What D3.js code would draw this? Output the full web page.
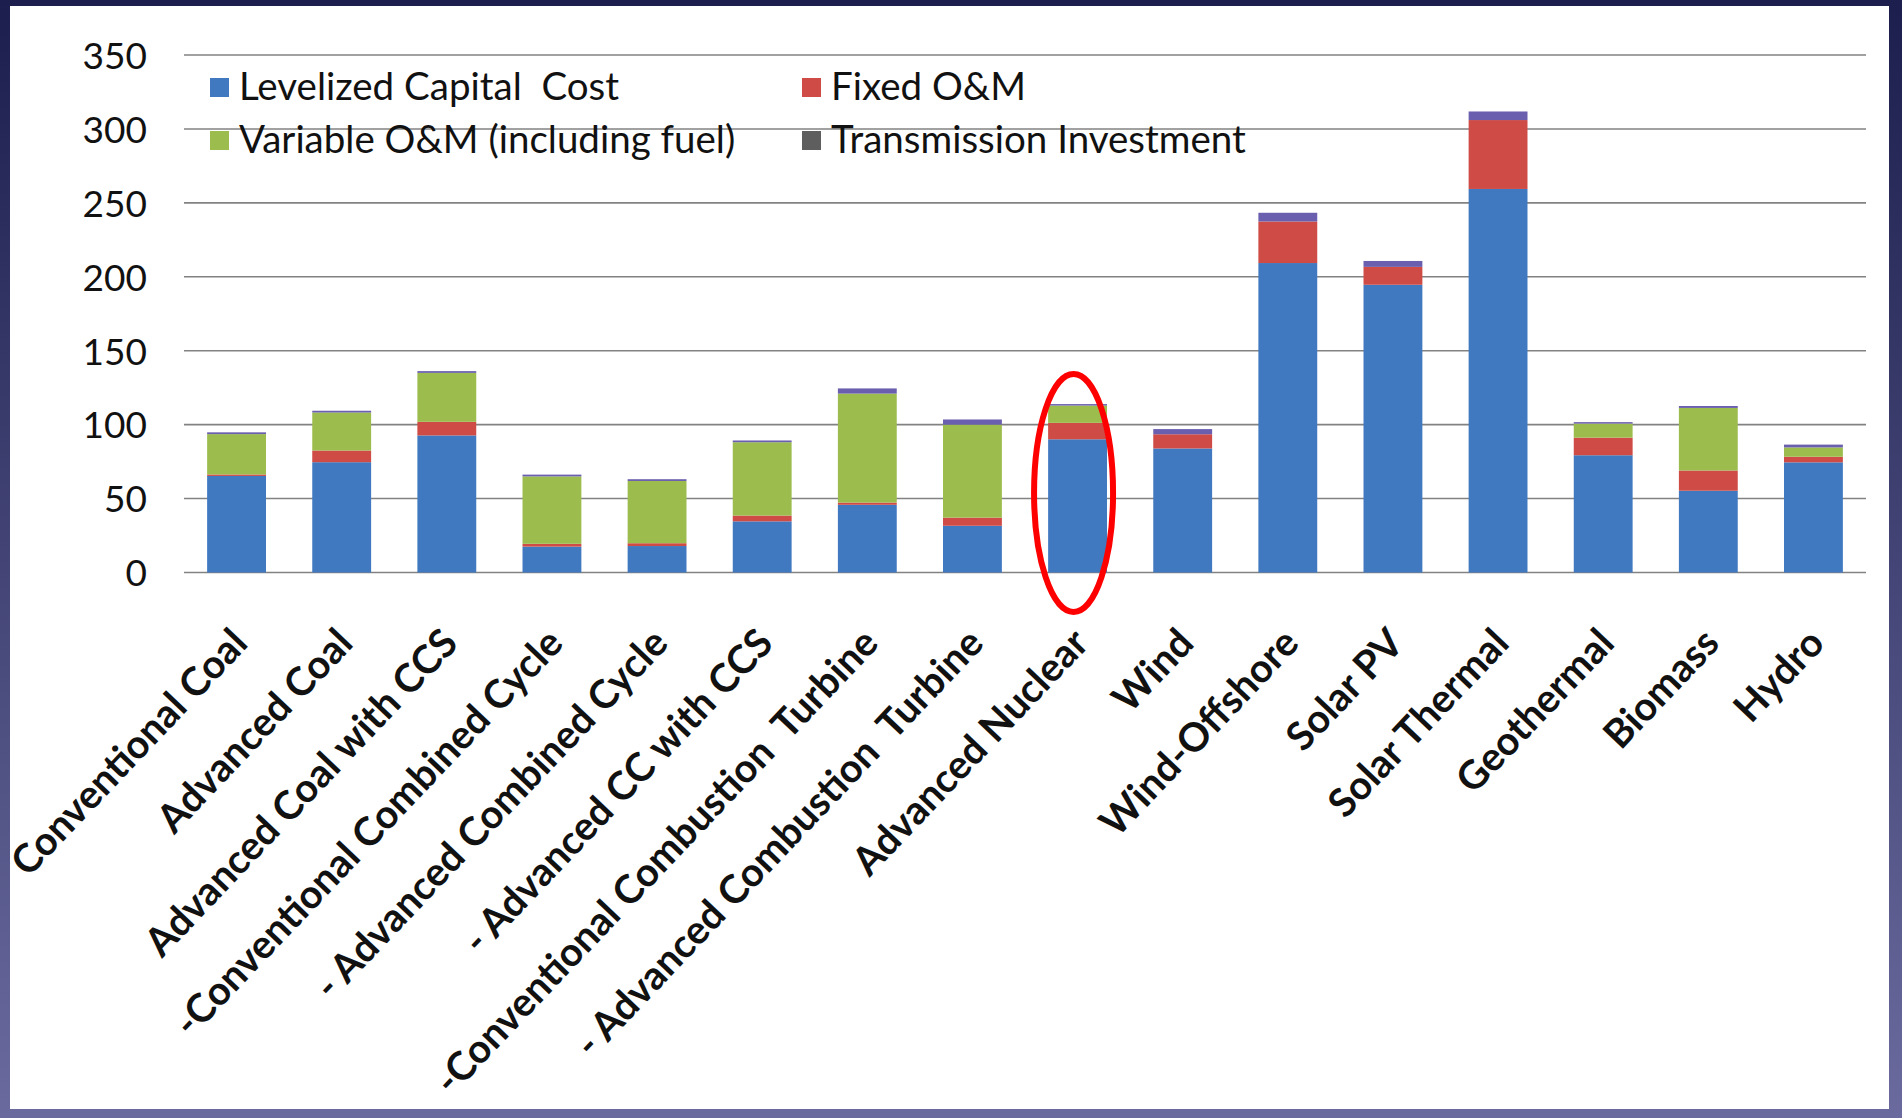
<!DOCTYPE html>
<html>
<head>
<meta charset="utf-8">
<script src="https://cdn.jsdelivr.net/npm/d3@7/dist/d3.min.js"></script>
<style>
  html, body { margin: 0; padding: 0; background: #1d2050; }
  svg { display: block; }
  text { font-family: Lato, "Open Sans", sans-serif; fill: #111; }
</style>
</head>
<body>
<svg id="chart" width="1902" height="1118"></svg>
<script>
// ---- Data (2009 $/MWh) ----
const categories = [
  "Conventional Coal", "Advanced Coal", "Advanced Coal with CCS",
  "-Conventional Combined Cycle", "- Advanced Combined Cycle", "- Advanced CC with CCS",
  "-Conventional Combustion  Turbine", "- Advanced Combustion  Turbine", "Advanced Nuclear",
  "Wind", "Wind-Offshore", "Solar PV", "Solar Thermal", "Geothermal", "Biomass", "Hydro"
];
const capitalCost   = [65.3, 74.6, 92.7, 17.5, 17.9, 34.6, 45.8, 31.6, 90.1, 83.9, 209.3, 194.6, 259.4, 79.3, 55.3, 74.5];
const fixedOM       = [1.0, 7.9, 9.2, 1.9, 1.9, 3.9, 1.5, 5.5, 11.1, 9.6, 28.1, 12.1, 46.6, 11.9, 13.7, 3.8];
const variableOM    = [27.3, 25.7, 33.1, 45.6, 42.1, 49.6, 73.7, 62.9, 11.7, 0, 0, 0, 0, 9.5, 42.3, 6.3];
const transmission  = [1.2, 1.2, 1.2, 1.2, 1.2, 1.2, 3.5, 3.5, 1.0, 3.5, 5.9, 4.0, 5.8, 1.0, 1.3, 1.9];
const yTicks = [0, 50, 100, 150, 200, 250, 300, 350];
const seriesNames = ["Levelized Capital  Cost", "Fixed O&M", "Variable O&M (including fuel)", "Transmission Investment"];
const seriesKeys = ["capital", "fixed", "variable", "transmission"];
const highlighted = "Advanced Nuclear";

// ---- Styles ----
const barColors = { capital: "#4079c0", fixed: "#cf4b46", variable: "#9cbd4e", transmission: "#6a5fae" };
const legendColors = { capital: "#4079c0", fixed: "#cf4b46", variable: "#9cbd4e", transmission: "#5e5e5e" };

const W = 1902, H = 1118;
const svg = d3.select("#chart");

// Background frame gradient
const defs = svg.append("defs");
const grad = defs.append("linearGradient").attr("id", "frame").attr("x1", 0).attr("y1", 0).attr("x2", 0).attr("y2", 1);
grad.append("stop").attr("offset", "0%").attr("stop-color", "#1c1f4d");
grad.append("stop").attr("offset", "100%").attr("stop-color", "#6a6a9e");
svg.append("rect").attr("width", W).attr("height", H).attr("fill", "url(#frame)");
svg.append("rect").attr("x", 10).attr("y", 6).attr("width", 1879).attr("height", 1103).attr("fill", "#ffffff");

// Scales
const x = d3.scaleBand().domain(categories).range([184, 1866]).paddingInner(0.44).paddingOuter(0.22);
const y = d3.scaleLinear().domain([0, 350]).range([572.5, 55]);

// Gridlines
svg.append("g").selectAll("line").data(yTicks).join("line")
  .attr("x1", 184).attr("x2", 1866)
  .attr("y1", d => y(d)).attr("y2", d => y(d))
  .attr("stroke", "#828282").attr("stroke-width", 1.6);

// Y axis tick labels
const yAxis = d3.axisLeft(y).tickValues(yTicks).tickSize(0).tickPadding(0).tickFormat(d3.format("d"));
const yg = svg.append("g").attr("transform", "translate(147,0)").call(yAxis);
yg.select(".domain").remove();
yg.selectAll("text").attr("font-size", 37).attr("font-family", "Lato, sans-serif").attr("fill", "#111").attr("dy", "0.36em");

// Stacked data
const rows = categories.map((c, i) => ({
  cat: c, capital: capitalCost[i], fixed: fixedOM[i], variable: variableOM[i], transmission: transmission[i]
}));
const stack = d3.stack().keys(seriesKeys)(rows);

svg.append("g").selectAll("g").data(stack).join("g")
  .attr("fill", d => barColors[d.key])
  .selectAll("rect").data(d => d).join("rect")
  .attr("x", d => x(d.data.cat))
  .attr("width", x.bandwidth())
  .attr("y", d => y(d[1]))
  .attr("height", d => Math.max(0, y(d[0]) - y(d[1])));

// Category labels (rotated)
svg.append("g").selectAll("text").data(categories).join("text")
  .attr("transform", d => `translate(${x(d) + x.bandwidth() / 2 + 13},645) rotate(-46.5)`)
  .attr("text-anchor", "end")
  .attr("font-size", 39.5)
  .attr("font-weight", "bold")
  .style("white-space", "pre")
  .text(d => d);

// Legend
const legendPos = [
  { key: "capital", x: 210, y: 78 },
  { key: "fixed", x: 802, y: 78 },
  { key: "variable", x: 210, y: 131 },
  { key: "transmission", x: 802, y: 131 }
];
const lg = svg.append("g").selectAll("g").data(legendPos).join("g")
  .attr("transform", d => `translate(${d.x},${d.y})`);
lg.append("rect").attr("width", 19).attr("height", 19).attr("fill", d => legendColors[d.key]);
lg.append("text").attr("x", 29).attr("y", 22)
  .attr("font-size", 38.5)
  .style("white-space", "pre")
  .text(d => seriesNames[seriesKeys.indexOf(d.key)]);

// Highlight ellipse around Advanced Nuclear
svg.append("ellipse")
  .attr("cx", x(highlighted) + x.bandwidth() / 2 - 4)
  .attr("cy", 493)
  .attr("rx", 39.5).attr("ry", 119)
  .attr("fill", "none").attr("stroke", "#ff0000").attr("stroke-width", 6);
</script>
</body>
</html>
